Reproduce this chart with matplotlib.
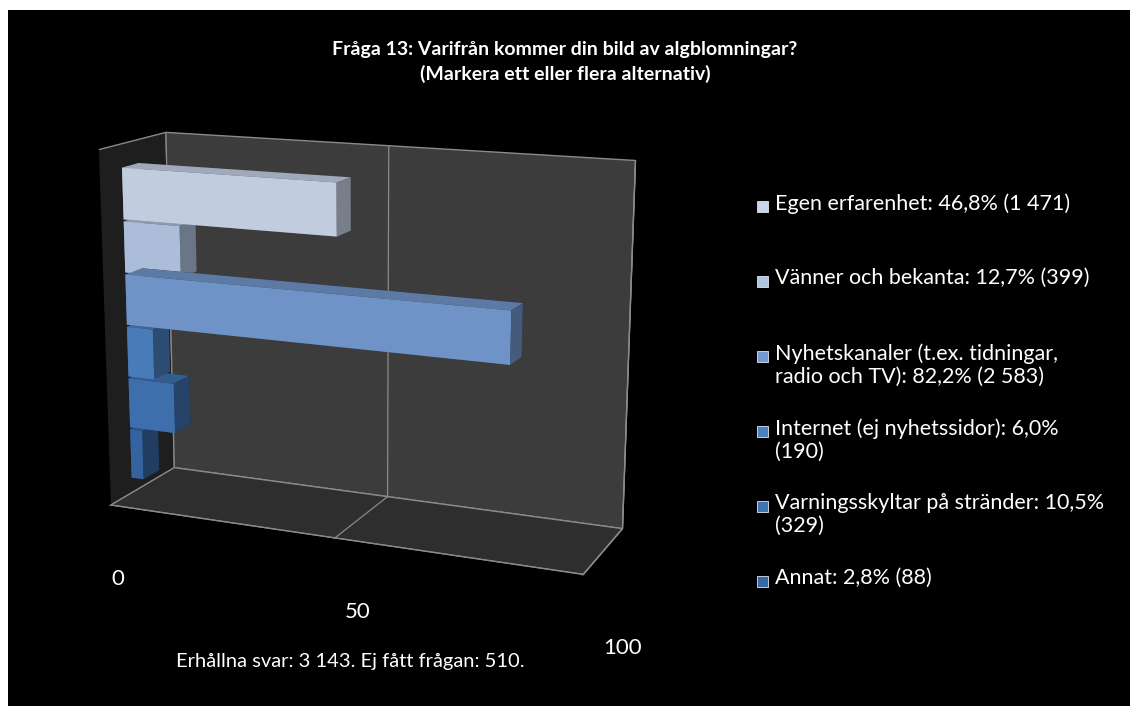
import matplotlib
matplotlib.use("Agg")
import matplotlib.pyplot as plt
from matplotlib.patches import Rectangle
from matplotlib.colors import LightSource
from mpl_toolkits.mplot3d import proj3d
import numpy as np
import textwrap

# ---------------- data ----------------
categories = ["Egen erfarenhet", "Vänner och bekanta",
              "Nyhetskanaler (t.ex. tidningar, radio och TV)",
              "Internet (ej nyhetssidor)", "Varningsskyltar på stränder", "Annat"]
percent = [46.8, 12.7, 82.2, 6.0, 10.5, 2.8]
counts = ["1 471", "399", "2 583", "190", "329", "88"]
colors = ["#C9D4E8", "#B2C4E0", "#7399CE", "#4C80BF", "#4073B3", "#3767A5"]
x_ticks = [0, 50, 100]
x_tick_labels = ["0", "50", "100"]
title = "Fråga 13: Varifrån kommer din bild av algblomningar?\n(Markera ett eller flera alternativ)"
footer = "Erhållna svar: 3 143. Ej fått frågan: 510."

FONT = ["Lato", "DejaVu Sans"]
plt.rcParams["font.family"] = FONT
plt.rcParams["grid.color"] = "#8a8a8a"
plt.rcParams["grid.linewidth"] = 0.9

W, H = 1130, 706
fig = plt.figure(figsize=(W / 100, H / 100), dpi=100, facecolor="black")
# white margins top / left as in the reference
fig.patches.append(Rectangle((0, 1 - 10 / H), 1, 10 / H, transform=fig.transFigure,
                             facecolor="white", edgecolor="none", zorder=-1))
fig.patches.append(Rectangle((0, 0), 8 / W, 1, transform=fig.transFigure,
                             facecolor="white", edgecolor="none", zorder=-1))

fig.text(565 / W, 1 - 62 / H, title, ha="center", va="center", color="white",
         fontsize=14, fontweight="bold", linespacing=1.5)
fig.text(350 / W, 1 - 662 / H, footer, ha="center", va="center", color="white", fontsize=14.5)

# ---------------- 3D bar chart ----------------
ax = fig.add_axes([0.034, 0.128, 0.56, 0.76], projection="3d")
ax.set_facecolor("none")
n = len(categories)
zpos = np.arange(n)[::-1].astype(float)
depth0, depth = 0.32, 0.25
ax.bar3d(np.zeros(n), np.full(n, depth0), zpos, percent, np.full(n, depth), np.full(n, 0.96),
         color=colors, shade=True, edgecolor="none",
         lightsource=LightSource(azdeg=190, altdeg=25))

zmin, zmax = -0.3, 6.4
ax.set_xlim(0, 100)
ax.set_ylim(0, 1)
ax.set_zlim(zmin, zmax)
ax.set_box_aspect((500, 135, 365), zoom=1.17)
ax.view_init(elev=14, azim=-67)
ax.set_proj_type("persp", focal_length=0.65)

ax.xaxis.set_pane_color("#1e1e1e")
ax.yaxis.set_pane_color("#3c3c3c")
ax.zaxis.set_pane_color("#2e2e2e")
for a in (ax.xaxis, ax.yaxis, ax.zaxis):
    a.pane.set_edgecolor("#8a8a8a")
    a.line.set_color("#8a8a8a")

ax.set_xticks(x_ticks)
ax.set_xticklabels([])
ax.set_yticks([])
ax.set_zticks([])
ax.tick_params(axis="x", colors="#8a8a8a")
ax.grid(True)

# value-axis labels: anchored to the projected tick positions on the front floor edge
fig.canvas.draw()
M = ax.get_proj()
for v, lab in zip(x_ticks, x_tick_labels):
    px, py, _ = proj3d.proj_transform(v, 0, zmin, M)
    ax.annotate(lab, xy=(px, py), xycoords="data", xytext=(7 + 0.32 * v, -74),
                textcoords="offset pixels", ha="center", va="center",
                color="white", fontsize=16, annotation_clip=False)

# ---------------- legend ----------------
for i, (cat, p, c, col) in enumerate(zip(categories, percent, counts, colors)):
    label = f"{cat}: " + f"{p:.1f}".replace(".", ",") + f"% ({c})"
    label = "\n".join(textwrap.wrap(label, width=34, break_on_hyphens=False))
    yc = 206 + 75 * i
    fig.patches.append(Rectangle((757 / W, 1 - (yc + 6) / H), 11 / W, 11 / H,
                                 transform=fig.transFigure, facecolor=col,
                                 edgecolor="#dfe6f2", linewidth=0.6))
    fig.text(775 / W, 1 - (yc - 13) / H, label, ha="left", va="top", color="white",
             fontsize=15.5, linespacing=1.2)

fig.savefig("out.png", dpi=100, facecolor=fig.get_facecolor())
